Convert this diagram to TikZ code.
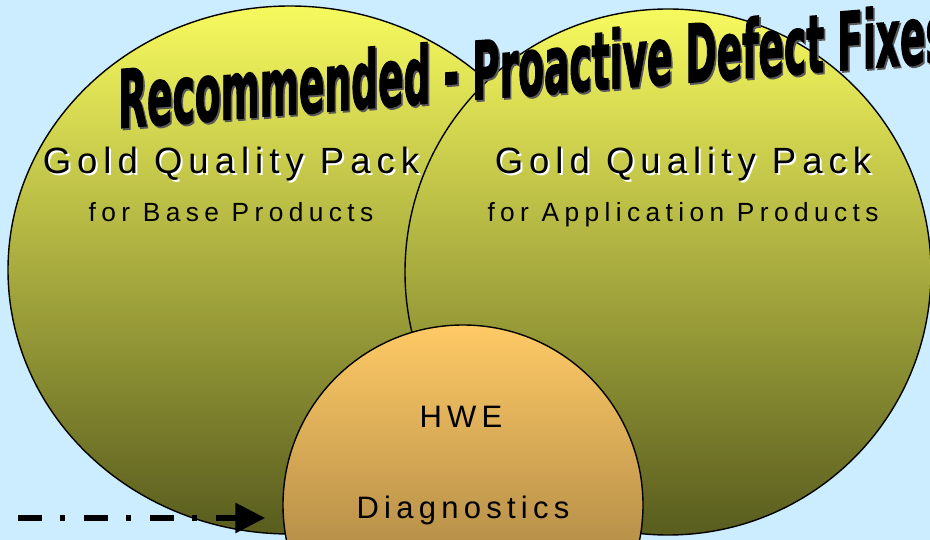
\documentclass[tikz,border=0pt]{standalone}
\usepackage{fontspec}
\usepackage{tikz}
\usetikzlibrary{shapes.geometric,arrows.meta,positioning,calc}
\setmainfont{Liberation Sans}
\newfontfamily\packfont[LetterSpace=16.5]{Liberation Sans}
\newfontfamily\subfont[LetterSpace=20.5]{Liberation Sans}
\newfontfamily\hwefont[LetterSpace=17]{Liberation Sans}
\newfontfamily\titlefont[FakeBold=2]{DejaVu Sans Condensed Bold}
\definecolor{bgblue}{RGB}{204,236,255}
\definecolor{packtop}{RGB}{247,250,94}
\definecolor{packbottom}{RGB}{88,92,30}
\definecolor{hwetop}{RGB}{255,202,102}
\definecolor{hwebottom}{RGB}{137,107,55}
\tikzstyle{ELLIPSE_1} = [ellipse, draw=black, line width=1.4pt, inner sep=0pt, top color=packtop, bottom color=packbottom]
\tikzstyle{ELLIPSE_2} = [ellipse, draw=black, line width=1.4pt, inner sep=0pt, top color=hwetop, bottom color=hwebottom]
\tikzstyle{TITLE_1} = [font=\packfont\fontsize{36.5}{36.5}\selectfont, anchor=base, inner sep=0pt]
\tikzstyle{TITLE_2} = [font=\subfont\fontsize{26.3}{26.3}\selectfont, anchor=base, inner sep=0pt]
\tikzstyle{TITLE_3} = [font=\titlefont\fontsize{80}{80}\selectfont, anchor=base west, inner sep=0pt, transform shape]
\tikzstyle{LABEL_1} = [font=\hwefont\fontsize{31}{31}\selectfont, anchor=base, inner sep=0pt]
\tikzstyle{ARROW} = [line width=6pt, dash pattern=on 24pt off 18pt on 5pt off 19pt, -{Triangle[length=30pt,width=29pt]}]

\begin{document}
\begin{tikzpicture}[x=1pt, y=-1pt]
% Background
\useasboundingbox (0,0) rectangle (930,540);
\clip (0,0) rectangle (930,540);
\fill [bgblue] (0,0) rectangle (930,540);
% Place nodes
\node [ELLIPSE_1, minimum width=564pt, minimum height=528pt] (basepack) at (290,270) {};
\node [ELLIPSE_1, minimum width=526pt, minimum height=526pt] (apppack) at (668,272) {};
\node [ELLIPSE_2, minimum width=360pt, minimum height=360pt] (hwe) at (463,505) {};
% Texts
\node [TITLE_1, white] (goldbaseshadow) at (233,176) {Gold Quality Pack};
\node [TITLE_1] (goldbase) at (231,174) {Gold Quality Pack};
\node [TITLE_2] (forbase) at (231,222) {for Base Products};
\node [TITLE_1, white] (goldappshadow) at (685,176) {Gold Quality Pack};
\node [TITLE_1] (goldapp) at (683,174) {Gold Quality Pack};
\node [TITLE_2] (forapp) at (683,222) {for Application Products};
\node [LABEL_1] (hwetext) at (461,428) {HWE};
\node [LABEL_1] (diagtext) at (463,518) {Diagnostics};
% Heading
\begin{scope}[shift={(118,128)}, yslant=0.08, xscale=0.522]
\node [TITLE_3, black!65] (headingshadow) at (3,2) {Recommended - Proactive Defect Fixes};
\node [TITLE_3] (heading) at (0,0) {Recommended - Proactive Defect Fixes};
\end{scope}
% LINES and ARROWS
\coordinate (dashstart) at (18,518);
\draw [ARROW, shorten >=17pt] (dashstart) -- (dashstart -| hwe.west);
\end{tikzpicture}
\end{document}
